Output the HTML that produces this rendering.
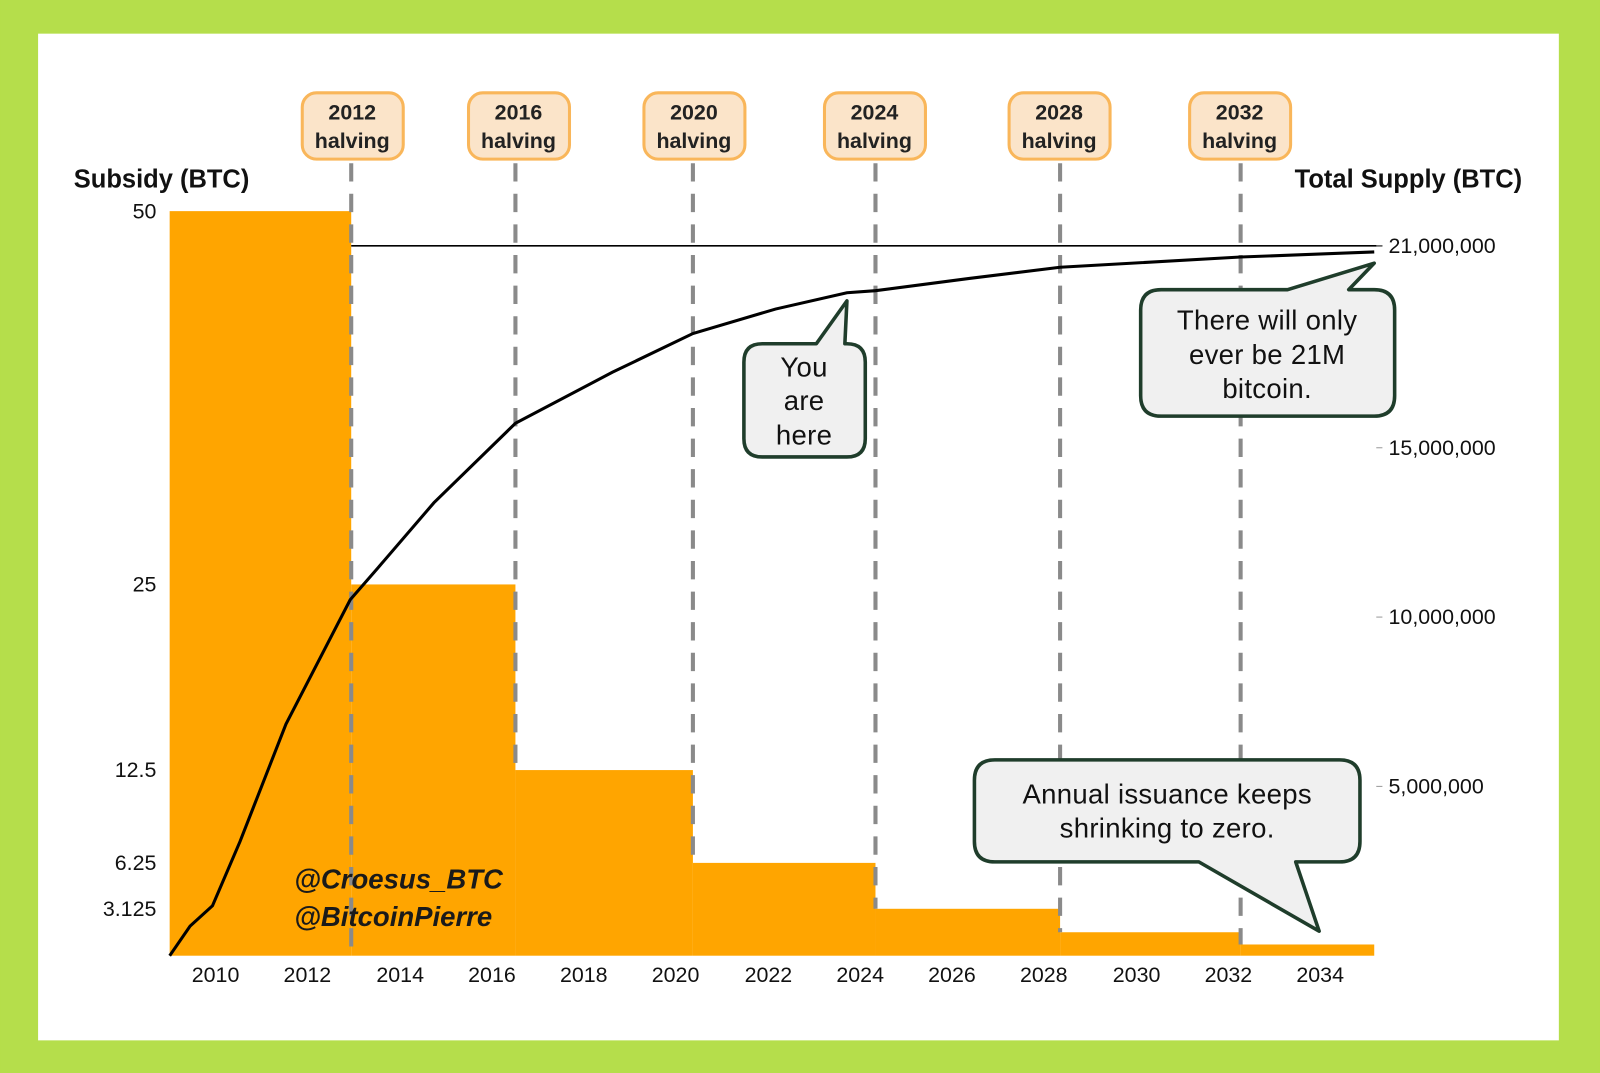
<!DOCTYPE html>
<html><head><meta charset="utf-8"><style>
html,body{margin:0;padding:0;background:#b5de4b;}
svg{display:block;}
.t{font-family:"Liberation Sans",sans-serif;fill:#111;}
</style></head><body>
<svg width="1600" height="1073" viewBox="0 0 1568 1052" xmlns="http://www.w3.org/2000/svg">
<rect x="0" y="0" width="1568" height="1052" fill="#b5de4b"/>
<rect x="37" y="33" width="1491" height="987" fill="#fff"/>
<g fill="#ffa500">
<rect x="166" y="207" width="178" height="730"/>
<rect x="344" y="573" width="161" height="364"/>
<rect x="505" y="755" width="174" height="182"/>
<rect x="679" y="846" width="179" height="91"/>
<rect x="858" y="891" width="181" height="46"/>
<rect x="1039" y="914" width="177" height="23"/>
<rect x="1216" y="926" width="131" height="11"/>
</g>
<line x1="344" y1="241" x2="1355" y2="241" stroke="#000" stroke-width="1.5"/>
<g stroke="#8a8a8a" stroke-width="4" stroke-dasharray="18,12">
<line x1="344" y1="160" x2="344" y2="937"/>
<line x1="505" y1="160" x2="505" y2="755"/>
<line x1="679" y1="160" x2="679" y2="846"/>
<line x1="858" y1="160" x2="858" y2="891"/>
<line x1="1039" y1="160" x2="1039" y2="914"/>
<line x1="1216" y1="160" x2="1216" y2="926"/>
</g>
<polyline fill="none" stroke="#000" stroke-width="3" points="166,937 186,908 208,888 235,825 280,710 343,588 370,557 425,493 505,415 600,365 679,327 760,303 830,287 858,285 950,273 1039,262 1216,252 1347,247"/>
<g font-family="Liberation Sans,sans-serif" font-size="21" font-weight="bold" text-anchor="middle" fill="#222">
<g><rect x="296" y="91" width="99" height="65" rx="14" fill="#fbe4c9" stroke="#f9b65a" stroke-width="3"/><text x="345" y="117">2012</text><text x="345" y="145">halving</text></g>
<g><rect x="459" y="91" width="99" height="65" rx="14" fill="#fbe4c9" stroke="#f9b65a" stroke-width="3"/><text x="508" y="117">2016</text><text x="508" y="145">halving</text></g>
<g><rect x="631" y="91" width="99" height="65" rx="14" fill="#fbe4c9" stroke="#f9b65a" stroke-width="3"/><text x="680" y="117">2020</text><text x="680" y="145">halving</text></g>
<g><rect x="808" y="91" width="99" height="65" rx="14" fill="#fbe4c9" stroke="#f9b65a" stroke-width="3"/><text x="857" y="117">2024</text><text x="857" y="145">halving</text></g>
<g><rect x="989" y="91" width="99" height="65" rx="14" fill="#fbe4c9" stroke="#f9b65a" stroke-width="3"/><text x="1038" y="117">2028</text><text x="1038" y="145">halving</text></g>
<g><rect x="1166" y="91" width="99" height="65" rx="14" fill="#fbe4c9" stroke="#f9b65a" stroke-width="3"/><text x="1215" y="117">2032</text><text x="1215" y="145">halving</text></g>
</g>
<text class="t" x="72" y="184" font-size="25" font-weight="bold">Subsidy (BTC)</text>
<text class="t" x="1492" y="184" font-size="25" font-weight="bold" text-anchor="end">Total Supply (BTC)</text>
<g class="t" font-size="21" text-anchor="end">
<text x="153" y="214">50</text>
<text x="153" y="580">25</text>
<text x="153" y="762">12.5</text>
<text x="153" y="853">6.25</text>
<text x="153" y="898">3.125</text>
</g>
<g stroke="#999" stroke-width="1"><line x1="1349" y1="241" x2="1355" y2="241"/><line x1="1349" y1="439" x2="1355" y2="439"/><line x1="1349" y1="605" x2="1355" y2="605"/><line x1="1349" y1="771" x2="1355" y2="771"/></g>
<g class="t" font-size="21">
<text x="1361" y="248">21,000,000</text>
<text x="1361" y="446">15,000,000</text>
<text x="1361" y="612">10,000,000</text>
<text x="1361" y="778">5,000,000</text>
</g>
<g class="t" font-size="21" text-anchor="middle">
<text x="211" y="963">2010</text><text x="301" y="963">2012</text><text x="392" y="963">2014</text><text x="482" y="963">2016</text><text x="572" y="963">2018</text><text x="662" y="963">2020</text><text x="753" y="963">2022</text><text x="843" y="963">2024</text><text x="933" y="963">2026</text><text x="1023" y="963">2028</text><text x="1114" y="963">2030</text><text x="1204" y="963">2032</text><text x="1294" y="963">2034</text>
</g>
<g font-family="Liberation Sans,sans-serif" font-size="27" font-weight="bold" font-style="italic" fill="#1a1a1a">
<text x="288" y="871">@Croesus_BTC</text>
<text x="288" y="908">@BitcoinPierre</text>
</g>
<g fill="#f0f0f0" stroke="#1f3d2b" stroke-width="3.5" stroke-linejoin="round">
<path d="M747,337 H800 L830,295 L828,337 H830 Q848,337 848,355 V430 Q848,448 830,448 H747 Q729,448 729,430 V355 Q729,337 747,337 Z"/>
<path d="M1138,284 H1262 L1347,258 L1322,284 H1347 Q1367,284 1367,304 V388 Q1367,408 1347,408 H1138 Q1118,408 1118,388 V304 Q1118,284 1138,284 Z"/>
<path d="M975,745 H1313 Q1333,745 1333,765 V825 Q1333,845 1313,845 H1270 L1293,913 L1175,845 H975 Q955,845 955,825 V765 Q955,745 975,745 Z"/>
</g>
<g class="t" font-size="27" text-anchor="middle" fill="#222" letter-spacing="0.3">
<text x="788" y="369">You</text><text x="788" y="402">are</text><text x="788" y="436">here</text>
<text x="1242" y="323">There will only</text><text x="1242" y="357">ever be 21M</text><text x="1242" y="390">bitcoin.</text>
<text x="1144" y="788">Annual issuance keeps</text><text x="1144" y="821">shrinking to zero.</text>
</g>
</svg>
</body></html>
